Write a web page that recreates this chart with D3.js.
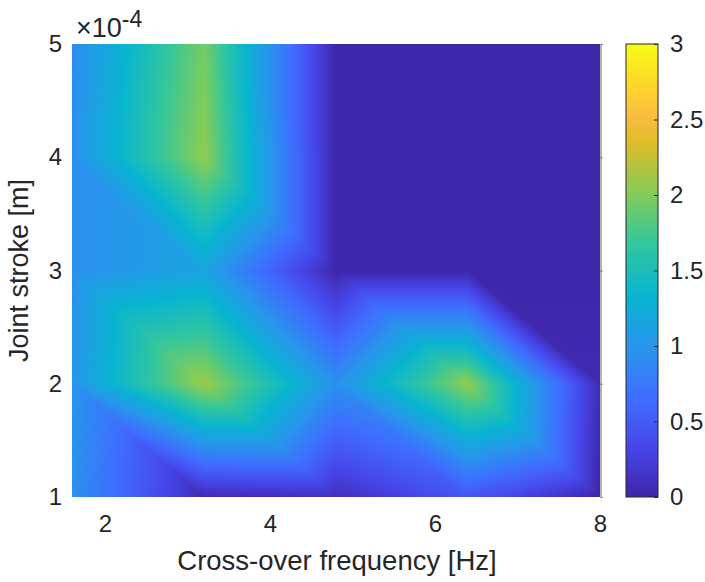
<!DOCTYPE html>
<html>
<head>
<meta charset="utf-8">
<script src="https://cdn.jsdelivr.net/npm/d3@7"></script>
<style>
  body { margin: 0; background: #fff; }
  svg text { font-family: "Liberation Sans", Arial, Helvetica, sans-serif; fill: #262626; }
</style>
</head>
<body>
<div id="chart"></div>
<script>
// grid of the surface (x: cross-over frequency, y: joint stroke)
const xGrid = [1.6, 3.2, 4.8, 6.4, 8]
const yGrid = [1e-4, 2e-4, 3e-4, 4e-4, 5e-4]
// z values, one row per yGrid entry (bottom to top)
const zRow1 = [0.95, 0.05, 0.1, 0.45, 0.0]
const zRow2 = [1.0, 2.1, 0.95, 2.05, 0.05]
const zRow3 = [0.95, 1.15, 0.0, 0.0, 0.0]
const zRow4 = [0.95, 2.05, 0.0, 0.0, 0.0]
const zRow5 = [0.9, 1.95, 0.0, 0.0, 0.0]
const zGrid = [zRow1, zRow2, zRow3, zRow4, zRow5]

const xTicks = [2, 4, 6, 8]
const yTicks = [1e-4, 2e-4, 3e-4, 4e-4, 5e-4]
const cTicks = [0, 0.5, 1, 1.5, 2, 2.5, 3]
const cLimits = [0, 3]

// parula colormap
const parula = ['#3e26a8', '#4747eb', '#3e6ffe', '#2796eb', '#08b4d0', '#31c69f', '#81cc59', '#dcbd29', '#fbbc40', '#fccf30', '#f9fb15']
const parulaPos = [0, 1 / 9, 2 / 9, 3 / 9, 4 / 9, 5 / 9, 6 / 9, 7 / 9, 0.84, 8 / 9, 1]

const w = 705
const h = 582
const mLeft = 72, mRight = 600, mTop = 44, mBottom = 497

const xScale = d3.scaleLinear().domain([1.6, 8]).range([mLeft, mRight])
const yScale = d3.scaleLinear().domain([1e-4, 5e-4]).range([mBottom, mTop])
const cAxisScale = d3.scaleLinear().domain(cLimits).range([mBottom, mTop])
const color = d3.scaleLinear()
  .domain(parulaPos.map(t => cLimits[0] + t * (cLimits[1] - cLimits[0])))
  .range(parula)
  .interpolate(d3.interpolateRgb)
  .clamp(true)

const svg = d3.select('#chart')
  .append('svg')
  .attr('width', w)
  .attr('height', h)

// SURFACE (interpolated shading on triangulated grid)
function zAt(x, y) {
  let i = Math.min(Math.max(d3.bisectRight(xGrid, x) - 1, 0), xGrid.length - 2)
  let j = Math.min(Math.max(d3.bisectRight(yGrid, y) - 1, 0), yGrid.length - 2)
  let u = (x - xGrid[i]) / (xGrid[i + 1] - xGrid[i])
  let v = (y - yGrid[j]) / (yGrid[j + 1] - yGrid[j])
  const bl = zGrid[j][i], br = zGrid[j][i + 1]
  const tl = zGrid[j + 1][i], tr = zGrid[j + 1][i + 1]
  if (u + v <= 1) return bl + u * (br - bl) + v * (tl - bl)
  return tr + (1 - u) * (tl - tr) + (1 - v) * (br - tr)
}

const pw = mRight - mLeft, ph = mBottom - mTop
const canvas = document.createElement('canvas')
canvas.width = pw
canvas.height = ph
const ctx = canvas.getContext('2d')
const img = ctx.createImageData(pw, ph)
for (let py = 0; py < ph; py++) {
  const y = yScale.invert(mTop + py + 0.5)
  for (let px = 0; px < pw; px++) {
    const x = xScale.invert(mLeft + px + 0.5)
    const c = d3.rgb(color(zAt(x, y)))
    const k = (py * pw + px) * 4
    img.data[k] = c.r
    img.data[k + 1] = c.g
    img.data[k + 2] = c.b
    img.data[k + 3] = 255
  }
}
ctx.putImageData(img, 0, 0)

svg.append('image')
  .attr('x', mLeft)
  .attr('y', mTop)
  .attr('width', pw)
  .attr('height', ph)
  .attr('preserveAspectRatio', 'none')
  .attr('href', canvas.toDataURL())

// AXES
const xAxis = d3.axisBottom(xScale).tickValues(xTicks).tickSize(0).tickPadding(18)
  .tickFormat(d3.format('d'))
const yAxis = d3.axisLeft(yScale).tickValues(yTicks).tickSize(0).tickPadding(10)
  .tickFormat(d => d3.format('d')(Math.round(d * 1e4)))

svg.append('g')
  .attr('transform', `translate(0,${mBottom})`)
  .call(xAxis)
  .call(g => g.select('.domain').remove())
  .selectAll('text').style('font-size', '24px').attr('fill', '#262626')

svg.append('g')
  .attr('transform', `translate(${mLeft},0)`)
  .call(yAxis)
  .call(g => g.select('.domain').remove())
  .selectAll('text').style('font-size', '24px').attr('fill', '#262626')

// right edge of the box
svg.append('g')
  .attr('transform', `translate(${mRight + 0.5},0)`)
  .call(d3.axisRight(yScale).tickValues(yTicks).tickSizeInner(2).tickSizeOuter(0).tickFormat(''))
  .call(g => g.select('.domain').attr('stroke', '#666'))
  .call(g => g.selectAll('.tick line').attr('stroke', '#666'))

// exponent
const expo = svg.append('text')
  .attr('x', 76)
  .attr('y', 37)
  .style('font-size', '27px')
expo.append('tspan').text('\u00d710')
expo.append('tspan').attr('dy', -10).style('font-size', '23px').text('-4')

// axis labels
svg.append('text')
  .text('Cross-over frequency [Hz]')
  .attr('text-anchor', 'middle')
  .style('font-size', '27.5px')
  .attr('transform', `translate(${(mLeft + mRight) / 2 + 1},570)`)

svg.append('text')
  .text('Joint stroke [m]')
  .attr('text-anchor', 'middle')
  .style('font-size', '27px')
  .attr('transform', `translate(28,${(mTop + mBottom) / 2}) rotate(-90)`)

// COLORBAR
const cbX = 626, cbW = 32
const defs = svg.append('defs')
const grad = defs.append('linearGradient')
  .attr('id', 'cbar')
  .attr('x1', 0).attr('y1', 1).attr('x2', 0).attr('y2', 0)
d3.range(0, 1.0001, 1 / 64).forEach(t => {
  grad.append('stop')
    .attr('offset', t)
    .attr('stop-color', color(cLimits[0] + t * (cLimits[1] - cLimits[0])))
})

svg.append('rect')
  .attr('x', cbX)
  .attr('y', mTop)
  .attr('width', cbW)
  .attr('height', mBottom - mTop)
  .attr('fill', 'url(#cbar)')
  .attr('stroke', '#262626')
  .attr('stroke-width', 1)

svg.append('g')
  .attr('transform', `translate(${cbX + cbW},0)`)
  .call(d3.axisRight(cAxisScale).tickValues(cTicks).tickSizeInner(-4).tickSizeOuter(0).tickPadding(12)
    .tickFormat(d3.format('')))
  .call(g => g.select('.domain').remove())
  .call(g => g.selectAll('.tick line').attr('stroke', '#262626'))
  .selectAll('text').style('font-size', '24px').attr('fill', '#262626')
</script>
</body>
</html>
